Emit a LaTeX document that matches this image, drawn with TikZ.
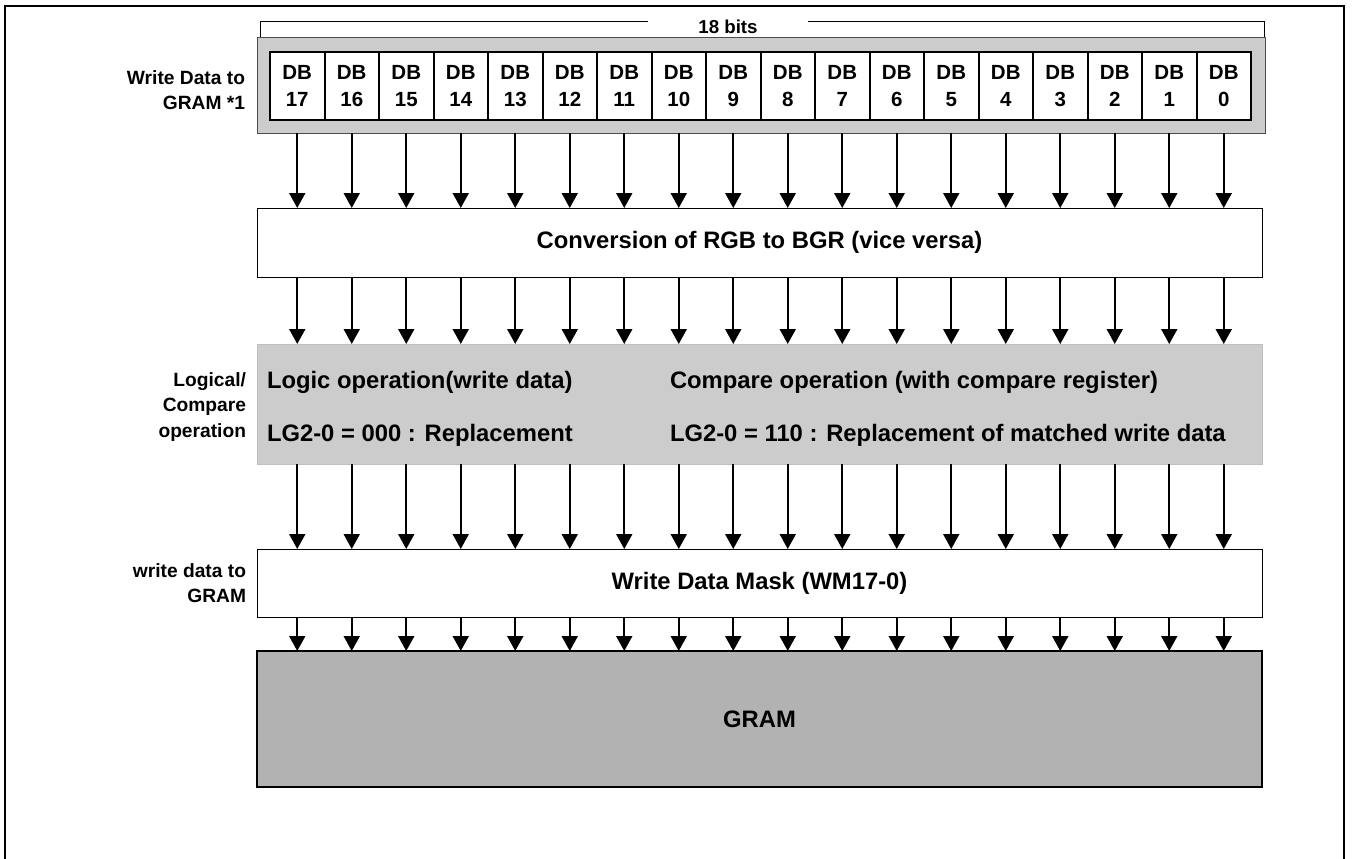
\documentclass[tikz,border=0pt]{standalone}
\usepackage{fontspec}
\setmainfont{Liberation Sans}
\usetikzlibrary{arrows.meta}
\begin{document}
\begin{tikzpicture}[x=1pt,y=-1pt,
  every node/.style={inner sep=0pt, outer sep=0pt},
  txt/.style={font=\bfseries\fontsize{23.8}{28}\selectfont},
  side/.style={font=\bfseries\fontsize{19.2}{25.5}\selectfont, align=right, anchor=east},
  cell/.style={draw, line width=2pt, fill=white, minimum width=54.5pt, minimum height=68pt,
    align=center, font=\bfseries\fontsize{20.5}{27}\selectfont},
  band/.style={draw, line width=1pt, minimum width=1005pt, anchor=north west},
  arr/.style={line width=2pt, -{Triangle[width=16pt,length=15pt]}},
]
\useasboundingbox (0,0) rectangle (1353,859);
% outer frame
\draw[line width=2pt] (5,862) -- (5,6) -- (1344,6) -- (1344,862);
% 18 bits bracket
\draw[line width=1pt] (260,38) -- (260,22) -- (1264,22) -- (1264,38);
% gray box behind cells
\node[draw=black!70, line width=1pt, fill=black!20, anchor=north west,
  minimum width=1008pt, minimum height=95pt] (dbbox) at (257,38) {};
\node[font=\bfseries\fontsize{18.7}{22}\selectfont, fill=white, minimum width=160pt, minimum height=20pt] (bits) at (728,27) {18 bits};
% cells
\foreach \i in {0,...,17}{
  \pgfmathtruncatemacro{\n}{17-\i}
  \node[cell] (c\i) at ({270+54.5*(\i+0.5)},86) {DB\\\n};
}
\node[side] (lab1) at (245,90) {Write Data to\\GRAM *1};
% conversion
\node[band, fill=white, minimum height=69pt, txt] (conv) at (257,208) {Conversion of RGB to BGR (vice versa)};
% logic
\node[anchor=north west, fill=black!20, draw=black!25, line width=0.5pt,
  minimum width=1005pt, minimum height=120pt] (logic) at (257,344) {};
\node[txt, anchor=base west] (l1) at (267,388) {Logic operation(write data)};
\node[txt, anchor=base west] (l2) at (267,441) {LG2-0 = 000 : Replacement};
\node[txt, anchor=base west] (r1) at (670,388) {Compare operation (with compare register)};
\node[txt, anchor=base west] (r2) at (670,441) {LG2-0 = 110 : Replacement of matched write data};
\node[side] (lab2) at (246,407) {Logical/\\Compare\\operation};
% mask
\node[band, fill=white, minimum height=68pt, txt] (mask) at (257,549) {Write Data Mask (WM17-0)};
\node[side] (lab3) at (246,583) {write data to\\GRAM};
% GRAM
\node[band, fill=black!30, line width=1.5pt, minimum height=136pt, txt] (gram) at (257,651) {GRAM};
% arrows
\foreach \i in {0,...,17}{
  \draw[arr] (c\i |- dbbox.south) -- (c\i |- conv.north);
  \draw[arr] (c\i |- conv.south) -- (c\i |- logic.north);
  \draw[arr] (c\i |- logic.south) -- (c\i |- mask.north);
  \draw[arr] (c\i |- mask.south) -- (c\i |- gram.north);
}
\end{tikzpicture}
\end{document}
